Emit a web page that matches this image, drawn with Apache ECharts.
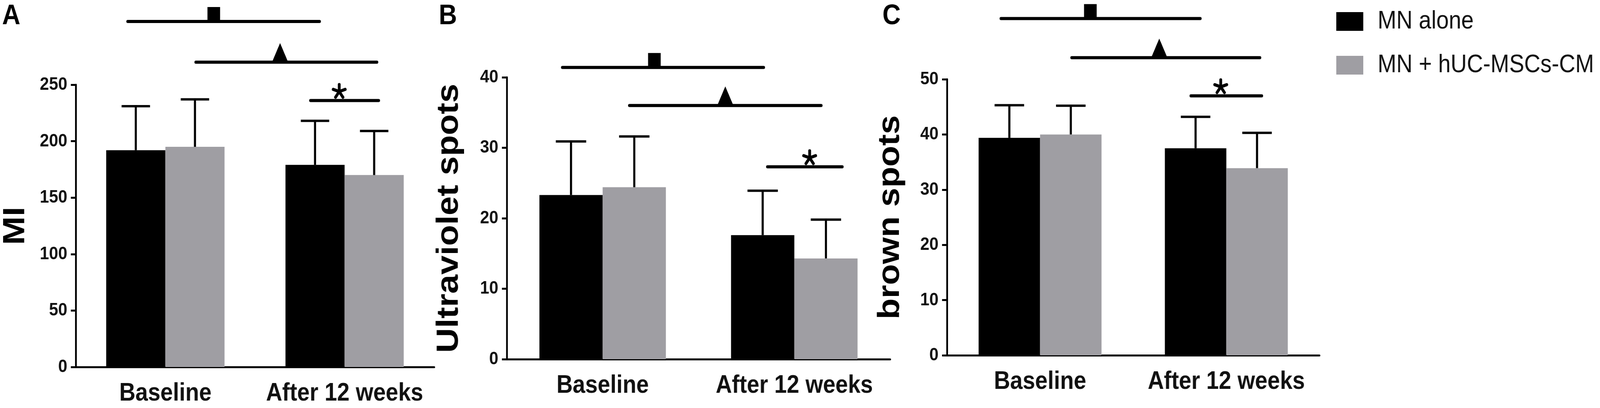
<!DOCTYPE html>
<html>
<head>
<meta charset="utf-8">
<script src="https://cdn.jsdelivr.net/npm/echarts@6/dist/echarts.min.js"></script>
<style>
  html, body { margin: 0; padding: 0; background: #fff; overflow: hidden; }
  #chart { width: 4562px; height: 1045px; transform-origin: 0 0; }
</style>
</head>
<body>
<div id="chart"></div>
<script>
// values (mean and upper SD whisker length)
const categories = ["Baseline", "After 12 weeks"];
const groupNames = ["MN alone", "MN + hUC-MSCs-CM"];

const miAlone = [192, 179];
const miAloneSd = [39, 39];
const miCm = [195, 170];
const miCmSd = [42, 39];

const uvAlone = [23.3, 17.6];
const uvAloneSd = [7.6, 6.3];
const uvCm = [24.4, 14.3];
const uvCmSd = [7.2, 5.5];

const brownAlone = [39.4, 37.5];
const brownAloneSd = [5.9, 5.7];
const brownCm = [40.0, 33.9];
const brownCmSd = [5.2, 6.4];

const panelTitles = ["MI", "Ultraviolet spots", "brown spots"];
const panelLetters = ["A", "B", "C"];
const yMax = [250, 40, 50];
const yStep = [50, 10, 10];

// heights of the significance brackets, in each panel's own units
const squareLevel = [306, 41.4, 61.0];
const triangleLevel = [270, 36.0, 53.9];
const starLevel = [236, 27.3, 47.0];

(function () {
  const node = document.getElementById("chart");
  const REF_W = 4562;
  const REF_H = 1045;

  // the figure is laid out at its own size; squeeze it into whatever window we get
  function fit() {
    const sx = window.innerWidth / REF_W;
    const sy = window.innerHeight / REF_H;
    node.style.transform = "scale(" + sx + "," + sy + ")";
  }
  fit();

  const chart = echarts.init(node);
  const FONT = "'Liberation Sans', Arial, Helvetica, sans-serif";
  const GRAY = "#9f9ea3";
  const CAT_GAP = 0.34;

  const panels = [
    { alone: miAlone, aloneSd: miAloneSd, cm: miCm, cmSd: miCmSd },
    { alone: uvAlone, aloneSd: uvAloneSd, cm: uvCm, cmSd: uvCmSd },
    { alone: brownAlone, aloneSd: brownAloneSd, cm: brownCm, cmSd: brownCmSd },
  ];

  const grids = [
    { left: 212, top: 217, width: 1026, height: 723 },
    { left: 1445, top: 198, width: 1093, height: 722 },
    { left: 2700, top: 203, width: 1062, height: 707 },
  ];
  const nameGaps = [127, 120, 117];
  const letterX = [6, 1251, 2516];

  // bracket spans, as fractions of a category band from the first category centre
  const spans = {
    square: [[-0.21, 0.86, 0.27], [-0.21, 0.84, 0.27], [-0.21, 0.86, 0.27]],
    triangle: [[0.17, 1.18, 0.64], [0.14, 1.14, 0.64], [0.17, 1.18, 0.64]],
    star: [[0.81, 1.19, 0.97], [0.86, 1.25, 1.08], [0.81, 1.19, 0.97]],
  };

  function errorRenderer(side) {
    return function (params, api) {
      const idx = api.value(0);
      const mean = api.value(1);
      const sd = api.value(2);
      const bw = api.size([1, 0])[0];
      const barW = (bw * (1 - CAT_GAP)) / 2;
      const base = api.coord([idx, mean]);
      const top = api.coord([idx, mean + sd]);
      const x = base[0] + side * barW / 2;
      const cap = barW * 0.24;
      const style = { stroke: "#000", lineWidth: 6 };
      return {
        type: "group",
        children: [
          { type: "line", shape: { x1: x, y1: base[1], x2: x, y2: top[1] }, style: style },
          { type: "line", shape: { x1: x - cap, y1: top[1], x2: x + cap, y2: top[1] }, style: style },
        ],
      };
    };
  }

  function bracketRenderer(kind) {
    return function (params, api) {
      const base = api.coord([0, api.value(1)]);
      const bw = api.size([1, 0])[0];
      const x0 = base[0] + api.value(2) * bw;
      const x1 = base[0] + api.value(3) * bw;
      const mx = base[0] + api.value(4) * bw;
      const y = base[1];
      const children = [
        {
          type: "line",
          shape: { x1: x0, y1: y, x2: x1, y2: y },
          style: { stroke: "#000", lineWidth: 8, lineCap: "round" },
        },
      ];
      if (kind === "square") {
        children.push({ type: "rect", shape: { x: mx - 18, y: y - 37, width: 36, height: 37 }, style: { fill: "#000" } });
      } else if (kind === "triangle") {
        children.push({
          type: "polygon",
          shape: { points: [[mx - 23, y], [mx, y - 49], [mx + 23, y]] },
          style: { fill: "#000" },
        });
      } else {
        const cx = mx, cy = y - 23, r = 18;
        [-90, -18, -162, 54, 126].forEach(function (deg) {
          const a = (deg * Math.PI) / 180;
          children.push({
            type: "line",
            shape: { x1: cx, y1: cy, x2: cx + r * Math.cos(a), y2: cy + r * Math.sin(a) },
            style: { stroke: "#000", lineWidth: 8, lineCap: "round" },
          });
        });
      }
      return { type: "group", children: children };
    };
  }

  const xAxes = [];
  const yAxes = [];
  const series = [];
  const graphics = [];

  panels.forEach(function (p, i) {
    xAxes.push({
      type: "category",
      gridIndex: i,
      data: categories,
      axisLine: { lineStyle: { color: "#000", width: 5 } },
      axisTick: { alignWithLabel: true, length: 20, lineStyle: { color: "#000", width: 5 } },
      axisLabel: { interval: 0, color: "#111", fontFamily: FONT, fontWeight: "bold", fontSize: 64, margin: 36 },
    });
    yAxes.push({
      type: "value",
      gridIndex: i,
      min: 0,
      max: yMax[i],
      interval: yStep[i],
      name: panelTitles[i],
      nameLocation: "middle",
      nameGap: nameGaps[i],
      nameTextStyle: { color: "#000", fontFamily: FONT, fontWeight: "bold", fontSize: 88 },
      axisLine: { show: true, lineStyle: { color: "#000", width: 5 } },
      axisTick: { show: true, length: 14, lineStyle: { color: "#000", width: 5 } },
      axisLabel: { color: "#111", fontFamily: FONT, fontWeight: "bold", fontSize: 47, margin: 24 },
      splitLine: { show: false },
    });

    series.push({
      name: groupNames[0],
      type: "bar",
      xAxisIndex: i,
      yAxisIndex: i,
      data: p.alone,
      barGap: "0%",
      barCategoryGap: CAT_GAP * 100 + "%",
      itemStyle: { color: "#000" },
    });
    series.push({
      name: groupNames[1],
      type: "bar",
      xAxisIndex: i,
      yAxisIndex: i,
      data: p.cm,
      barGap: "0%",
      barCategoryGap: CAT_GAP * 100 + "%",
      itemStyle: { color: GRAY },
    });

    series.push({
      type: "custom",
      xAxisIndex: i,
      yAxisIndex: i,
      z: 5,
      clip: false,
      renderItem: errorRenderer(-1),
      data: p.alone.map(function (v, k) { return [k, v, p.aloneSd[k]]; }),
    });
    series.push({
      type: "custom",
      xAxisIndex: i,
      yAxisIndex: i,
      z: 5,
      clip: false,
      renderItem: errorRenderer(1),
      data: p.cm.map(function (v, k) { return [k, v, p.cmSd[k]]; }),
    });

    [["square", squareLevel], ["triangle", triangleLevel], ["star", starLevel]].forEach(function (b) {
      const s = spans[b[0]][i];
      series.push({
        type: "custom",
        xAxisIndex: i,
        yAxisIndex: i,
        z: 5,
        clip: false,
        renderItem: bracketRenderer(b[0]),
        data: [[0, b[1][i], s[0], s[1], s[2]]],
      });
    });

    graphics.push({
      type: "text",
      left: letterX[i],
      top: 6,
      style: { text: panelLetters[i], font: "bold 72px " + FONT, fill: "#000" },
    });
  });

  chart.setOption({
    animation: false,
    backgroundColor: "#fff",
    grid: grids,
    xAxis: xAxes,
    yAxis: yAxes,
    series: series,
    graphic: graphics,
    legend: {
      data: groupNames,
      orient: "vertical",
      left: 3805,
      top: 18,
      icon: "rect",
      itemWidth: 77,
      itemHeight: 48,
      itemGap: 48,
      textStyle: { color: "#111", fontFamily: FONT, fontSize: 64, padding: [0, 0, 0, 36] },
    },
  });

  window.addEventListener("resize", fit);
})();
</script>
</body>
</html>
